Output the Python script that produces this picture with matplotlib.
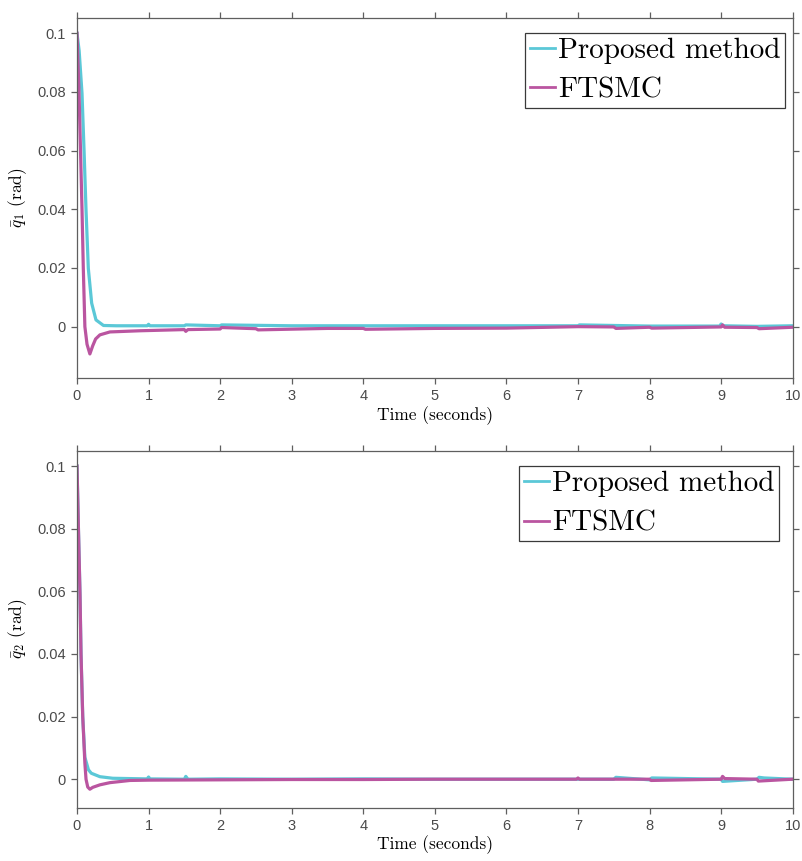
import numpy as np
import matplotlib
matplotlib.use("Agg")
import matplotlib.pyplot as plt

# -----------------------------
# Data
# -----------------------------
t_prop_1 = [0.00, 0.03, 0.07, 0.10, 0.126, 0.158, 0.205, 0.265, 0.37, 0.55, 0.98, 1.00, 1.02,
            1.50, 1.52, 2.00, 2.02, 3.00, 4.00, 5.00, 6.00, 7.00, 7.02, 8.00, 8.98, 9.00, 9.03,
            9.50, 10.00]
q_prop_1 = [0.100, 0.094, 0.0795, 0.059, 0.0398, 0.0199, 0.0080, 0.0023, 0.0004, 0.0003, 0.0003,
            0.0008, 0.0003, 0.0003, 0.0006, 0.0003, 0.0006, 0.0003, 0.0003, 0.0003, 0.0003, 0.0003,
            0.0006, 0.0002, 0.0002, 0.0009, 0.0003, 0.0001, 0.0003]

t_ftsmc_1 = [0.00, 0.028, 0.07, 0.088, 0.11, 0.14, 0.18, 0.22, 0.26, 0.32, 0.46, 0.88, 1.50, 1.52,
             1.55, 2.00, 2.02, 2.50, 2.53, 3.50, 4.00, 4.03, 5.00, 6.00, 6.60, 7.00, 7.50, 7.53,
             8.00, 8.03, 9.00, 9.02, 9.05, 9.50, 9.53, 10.00]
q_ftsmc_1 = [0.100, 0.080, 0.040, 0.020, 0.000, -0.0060, -0.0093, -0.0065, -0.0042, -0.0028,
             -0.0018, -0.0014, -0.0010, -0.0016, -0.0010, -0.0008, -0.0003, -0.0007, -0.0011,
             -0.0006, -0.0006, -0.0009, -0.0006, -0.0005, -0.0002, 0.0000, -0.0001, -0.0006,
             -0.0002, -0.0005, -0.0001, 0.0006, -0.0002, -0.0003, -0.0007, -0.0002]

t_prop_2 = [0.00, 0.02, 0.042, 0.056, 0.08, 0.11, 0.135, 0.16, 0.20, 0.32, 0.50, 0.98, 1.00, 1.02,
            1.50, 1.52, 1.55, 2.00, 3.00, 4.00, 5.00, 6.00, 7.00, 7.50, 7.53, 8.00, 8.03, 9.00,
            9.02, 9.50, 9.53, 9.60, 10.00]
q_prop_2 = [0.100, 0.080, 0.059, 0.040, 0.020, 0.0070, 0.0050, 0.0030, 0.0019, 0.0008, 0.0003,
            0.0001, 0.0007, 0.0001, 0.0000, 0.0009, 0.0000, 0.0001, 0.0000, 0.0001, 0.0000, 0.0000,
            0.0000, 0.0000, 0.0006, -0.0002, 0.0004, 0.0000, -0.0007, 0.0000, 0.0006, 0.0004, 0.0000]

t_ftsmc_2 = [0.00, 0.02, 0.042, 0.056, 0.08, 0.11, 0.126, 0.15, 0.18, 0.22, 0.32, 0.46, 0.74, 1.00,
             2.00, 3.00, 4.00, 5.00, 6.00, 6.98, 7.00, 7.02, 8.00, 8.02, 9.00, 9.02, 9.05, 9.50,
             9.52, 10.00]
q_ftsmc_2 = [0.100, 0.080, 0.059, 0.040, 0.020, 0.0051, 0.000, -0.0025, -0.0032, -0.0026, -0.0018,
             -0.0011, -0.0004, -0.0003, -0.0002, -0.0001, -0.0001, 0.0000, 0.0000, 0.0000, 0.0004,
             0.0000, 0.0000, -0.0004, 0.0000, 0.0009, 0.0002, 0.0000, -0.0006, 0.0000]

series_labels = ["Proposed method", "FTSMC"]
y_labels = [r"$\bar{q}_1$ (rad)", r"$\bar{q}_2$ (rad)"]
x_ticks = np.arange(0, 11, 1)
y_ticks = [0, 0.02, 0.04, 0.06, 0.08, 0.1]
y_tick_labels = ["0", "0.02", "0.04", "0.06", "0.08", "0.1"]

# Styles
CYAN = "#5BC8D7"
MAGENTA = "#BA55A0"
AXIS_GRAY = "#5f5f5f"
TEXT_FONT = "cmr10"

plt.rcParams["mathtext.fontset"] = "cm"
plt.rcParams["axes.unicode_minus"] = False

W, H = 803, 861
fig = plt.figure(figsize=(W / 100, H / 100), dpi=100)


def px_axes(left, top, right, bottom):
    return fig.add_axes([left / W, 1 - bottom / H, (right - left) / W, (bottom - top) / H])


def style_axes(ax, ylim, ylabel, legend_anchor):
    ax.set_xlim(0, 10)
    ax.set_ylim(*ylim)
    ax.set_xticks(x_ticks)
    ax.set_yticks(y_ticks)
    ax.set_xticklabels([str(v) for v in x_ticks])
    ax.set_yticklabels(y_tick_labels)
    for sp in ax.spines.values():
        sp.set_color(AXIS_GRAY)
        sp.set_linewidth(0.9)
    ax.tick_params(direction="out", length=4, width=0.9, color=AXIS_GRAY,
                   labelcolor="#4a4a4a", labelsize=10.5, top=True, right=True,
                   labelfontfamily="Liberation Sans", pad=4)
    ax.set_xlabel("Time (seconds)", fontfamily=TEXT_FONT, fontsize=12.5, labelpad=2)
    ax.set_ylabel(ylabel, fontfamily=TEXT_FONT, fontsize=12.5, labelpad=6)
    leg = ax.legend(loc="upper right", bbox_to_anchor=legend_anchor,
                    bbox_transform=fig.transFigure,
                    prop={"family": TEXT_FONT, "size": 21}, frameon=True, fancybox=False,
                    framealpha=1, edgecolor="#3a3a3a", handlelength=0.85, handletextpad=0.12,
                    borderpad=0.15, labelspacing=0.45, borderaxespad=0)
    leg.get_frame().set_linewidth(0.9)
    for line in leg.get_lines():
        line.set_linewidth(2.0)


# -----------------------------
# Top panel
# -----------------------------
ax1 = px_axes(77, 17.7, 792.7, 378)
ax1.plot(t_prop_1, q_prop_1, color=CYAN, lw=2.3, label=series_labels[0])
ax1.plot(t_ftsmc_1, q_ftsmc_1, color=MAGENTA, lw=2.3, label=series_labels[1])
style_axes(ax1, (-0.0175, 0.1053), y_labels[0], (785 / W, 1 - 33.3 / H))

# -----------------------------
# Bottom panel
# -----------------------------
ax2 = px_axes(77, 450.7, 792.7, 807.7)
ax2.plot(t_prop_2, q_prop_2, color=CYAN, lw=2.3, label=series_labels[0])
ax2.plot(t_ftsmc_2, q_ftsmc_2, color=MAGENTA, lw=2.3, label=series_labels[1])
style_axes(ax2, (-0.0091, 0.1049), y_labels[1], (779 / W, 1 - 466.5 / H))

fig.savefig("out.png", dpi=100)
